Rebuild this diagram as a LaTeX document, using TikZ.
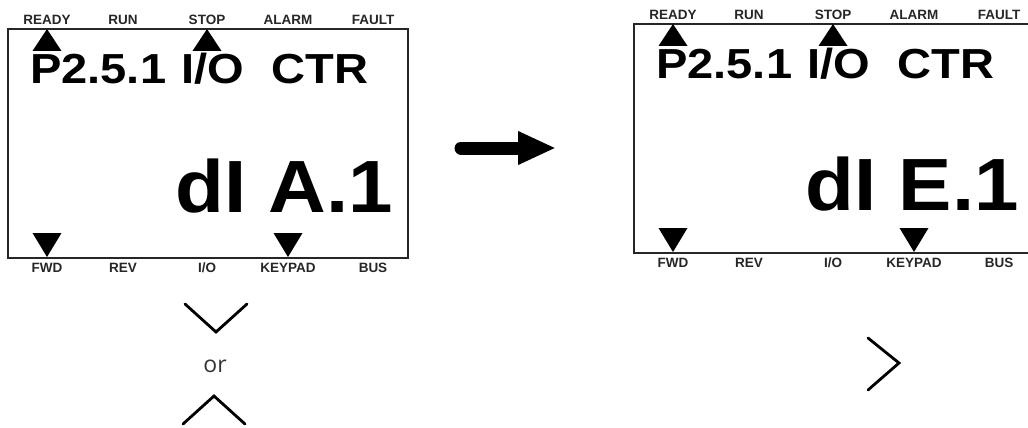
\documentclass[tikz,border=0pt]{standalone}
\usepackage{fontspec}
\setmainfont{Liberation Sans}
\newfontfamily\orfont{Open Sans}
\usetikzlibrary{arrows.meta}

\tikzset{
  lcdframe/.style={draw=black!85, line width=2pt},
  lcdlabel/.style={font=\bfseries\fontsize{13.5}{14}\selectfont, text=black!85, inner sep=0pt},
  marker/.style={fill=black},
  chevron/.style={draw=black, line width=2.8pt, line cap=round},
  menutext/.style={anchor=base west, inner sep=0pt, font=\bfseries\fontsize{42}{42}\selectfont},
  valuetext/.style={anchor=base east, inner sep=0pt, font=\bfseries\fontsize{74}{74}\selectfont},
}

\begin{document}
\begin{tikzpicture}[x=1pt,y=-1pt]
    \clip (0,0) rectangle (1028,428);

    % left display
    \draw[lcdframe] (8,29) rectangle (408,258);
    \foreach \nm/\txt/\x in {ready/READY/47, run/RUN/123, stop/STOP/207, alarm/ALARM/288, fault/FAULT/373}
        \node[lcdlabel] (L-\nm) at (\x,20) {\txt};
    \foreach \nm/\txt/\x in {fwd/FWD/47, rev/REV/123, io/{I/O}/207, keypad/KEYPAD/288, bus/BUS/373}
        \node[lcdlabel] (L-\nm) at (\x,268) {\txt};
    \fill[marker] (47,29) -- ++(-14.5,22) -- ++(29,0) -- cycle;
    \fill[marker] (207,29) -- ++(-14.5,22) -- ++(29,0) -- cycle;
    \fill[marker] (47,257) -- ++(-14.5,-24) -- ++(29,0) -- cycle;
    \fill[marker] (288,257) -- ++(-14.5,-24) -- ++(29,0) -- cycle;
    \node[menutext] (L-menu) at (30,83) {\scalebox{1.12}[1]{P2.5.1\hspace{2pt} I/O\hspace{13pt} CTR}};
    \node[valuetext] (L-value) at (393,212) {\scalebox{1.08}[1]{dI A.1}};

    % right display
    \begin{scope}[shift={(626,-5)}]
        \draw[lcdframe] (8,29) rectangle (408,258);
        \foreach \nm/\txt/\x in {ready/READY/47, run/RUN/123, stop/STOP/207, alarm/ALARM/288, fault/FAULT/373}
            \node[lcdlabel] (R-\nm) at (\x,20) {\txt};
        \foreach \nm/\txt/\x in {fwd/FWD/47, rev/REV/123, io/{I/O}/207, keypad/KEYPAD/288, bus/BUS/373}
            \node[lcdlabel] (R-\nm) at (\x,268) {\txt};
        \fill[marker] (47,29) -- ++(-14.5,22) -- ++(29,0) -- cycle;
        \fill[marker] (207,29) -- ++(-14.5,22) -- ++(29,0) -- cycle;
        \fill[marker] (47,257) -- ++(-14.5,-24) -- ++(29,0) -- cycle;
        \fill[marker] (288,257) -- ++(-14.5,-24) -- ++(29,0) -- cycle;
        \node[menutext] (R-menu) at (30,83) {\scalebox{1.12}[1]{P2.5.1\hspace{2pt} I/O\hspace{13pt} CTR}};
        \node[valuetext] (R-value) at (393,215) {\scalebox{1.08}[1]{dI E.1}};
    \end{scope}

    % arrow between the displays
    \coordinate (arrowtail) at (461,148);
    \coordinate (arrowtip) at (556,148);
    \draw[line width=13pt, line cap=round, -{Triangle[length=38pt, width=31pt]}] (arrowtail) -- (arrowtip);

    % keys
    \draw[chevron] (185,304) -- (216,332) -- (247,304);
    \node[font=\orfont\fontsize{23}{23}\selectfont, text=black!80] (or) at (215,366) {or};
    \draw[chevron] (183,424) -- (214,396) -- (245,424);
    \draw[chevron] (868,338) -- (899,363) -- (868,390);
\end{tikzpicture}
\end{document}
